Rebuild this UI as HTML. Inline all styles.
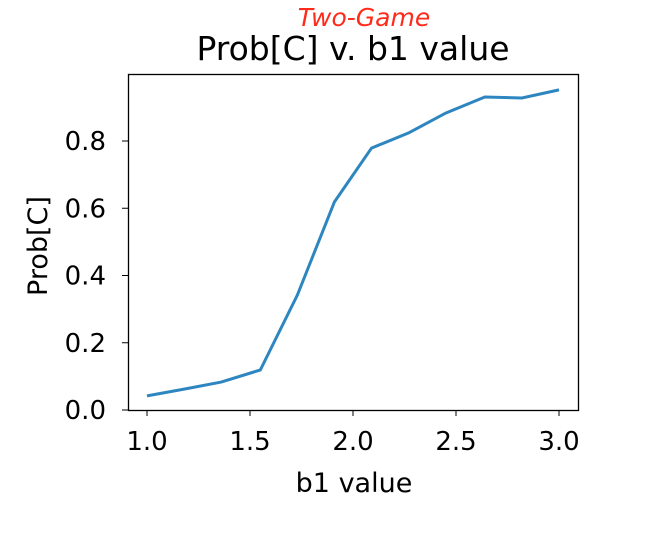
<!DOCTYPE html>
<html><head><meta charset="utf-8"><style>
body{margin:0;background:#fff;width:652px;height:550px;overflow:hidden}
text{font-family:"DejaVu Sans","Liberation Sans",sans-serif;fill:#000}
</style></head><body>
<svg id="chart" width="652" height="550">
<text x="364" y="26" font-size="25" text-anchor="middle" style="fill:#ff2a1a;font-family:'Comic Sans MS','DejaVu Sans',cursive;font-style:italic">Two-Game</text>
<text x="353" y="60" font-size="33" text-anchor="middle">Prob[C] v. b1 value</text>
<rect x="128.5" y="74.5" width="450" height="336" fill="none" stroke="#000" stroke-width="1.3"/>
<g id="xt"></g><g id="yt"></g>
<path id="line" fill="none" stroke="#2e86c1" stroke-width="3"/>
<text x="354" y="492" font-size="27" text-anchor="middle">b1 value</text>
<text transform="translate(47,246) rotate(-90)" font-size="27" text-anchor="middle">Prob[C]</text>
</svg>
<script>
const xs=[1.0,1.18,1.36,1.55,1.73,1.91,2.09,2.27,2.45,2.64,2.82,3.0];
const ys=[0.042,0.062,0.083,0.119,0.342,0.619,0.779,0.824,0.883,0.931,0.928,0.952];
const xTicks=[1.0,1.5,2.0,2.5,3.0];
const yTicks=[0.0,0.2,0.4,0.6,0.8];
const X=v=>147+(v-1)*206, Y=v=>410-v*336.25;
const ns="http://www.w3.org/2000/svg";
const xt=document.getElementById('xt'), yt=document.getElementById('yt');
xTicks.forEach(t=>{
  const l=document.createElementNS(ns,'line');
  l.setAttribute('x1',X(t));l.setAttribute('x2',X(t));l.setAttribute('y1',410.5);l.setAttribute('y2',416);l.setAttribute('stroke','#000');
  
  
  xt.appendChild(l);
  const s=document.createElementNS(ns,'text');
  s.setAttribute('x',X(t));s.setAttribute('y',450);s.setAttribute('font-size','26');s.setAttribute('text-anchor','middle');
  s.textContent=t.toFixed(1);
  
  
  xt.appendChild(s);
});
yTicks.forEach(t=>{
  const l=document.createElementNS(ns,'line');
  l.setAttribute('x1',122);l.setAttribute('x2',128.5);l.setAttribute('y1',Y(t));l.setAttribute('y2',Y(t));l.setAttribute('stroke','#000');
  
  
  yt.appendChild(l);
  const s=document.createElementNS(ns,'text');
  s.setAttribute('x',106);s.setAttribute('y',Y(t)+9);s.setAttribute('font-size','26');s.setAttribute('text-anchor','end');
  s.textContent=t.toFixed(1);
  
  
  yt.appendChild(s);
});
document.getElementById('line').setAttribute('d',xs.map((x,i)=>(i?'L':'M')+X(x)+','+Y(ys[i])).join(''));
</script>
</body></html>
